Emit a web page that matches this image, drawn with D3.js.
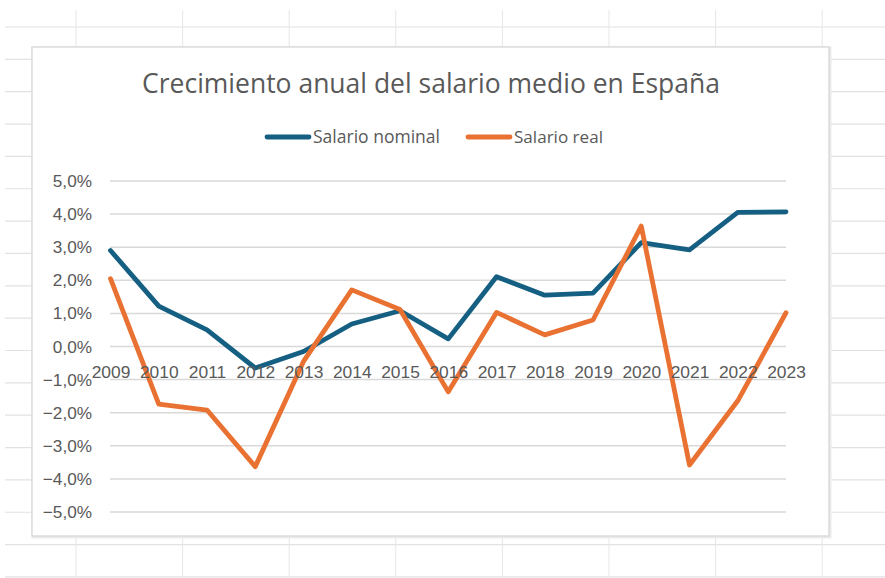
<!DOCTYPE html>
<html><head><meta charset="utf-8">
<script src="https://cdn.jsdelivr.net/npm/d3@7"></script>
<style>html,body{margin:0;padding:0;background:#fff;overflow:hidden}</style>
</head><body>
<svg id="c" width="885" height="578"></svg>
<script>
const years = ["2009","2010","2011","2012","2013","2014","2015","2016","2017","2018","2019","2020","2021","2022","2023"];
const nominal = [2.9, 1.22, 0.5, -0.65, -0.15, 0.68, 1.08, 0.23, 2.11, 1.55, 1.61, 3.14, 2.92, 4.05, 4.07];
const real = [2.05, -1.74, -1.92, -3.63, -0.45, 1.71, 1.12, -1.37, 1.03, 0.35, 0.8, 3.64, -3.58, -1.64, 1.02];
const yTicks = [5, 4, 3, 2, 1, 0, -1, -2, -3, -4, -5];
const seriesNames = ["Salario nominal", "Salario real"];
const colors = ["#156082", "#E97132"];
const title = "Crecimiento anual del salario medio en España";

const svg = d3.select("#c");
const W = 885, H = 578;

// spreadsheet grid background
const rowLines = d3.range(0, 18).map(i => 27 + i * 32.35);
const colLines = d3.range(0, 8).map(i => 76 + i * 106.6);
svg.append("g").selectAll("line").data(rowLines).join("line")
  .attr("x1", 5).attr("x2", W).attr("y1", d => d).attr("y2", d => d)
  .attr("stroke", "#e2e2e2").attr("stroke-width", 1.2);
svg.append("g").selectAll("line").data(colLines).join("line")
  .attr("x1", d => d).attr("x2", d => d).attr("y1", 10).attr("y2", H)
  .attr("stroke", "#e6e6e6").attr("stroke-width", 1);

// chart area box
svg.append("rect").attr("x", 33).attr("y", 48).attr("width", 797).attr("height", 489)
  .attr("fill", "none").attr("stroke", "#ececec").attr("stroke-width", 3);
svg.append("rect").attr("x", 32).attr("y", 47).attr("width", 797).attr("height", 489)
  .attr("fill", "#fff").attr("stroke", "#d4d4d4").attr("stroke-width", 1.2);

const x = d3.scalePoint().domain(years).range([110.5, 786]);
const y = d3.scaleLinear().domain([-5, 5]).range([512, 181]);

function fit(sel, target) {
  const fs = parseFloat(sel.attr("font-size"));
  const w = sel.node().getComputedTextLength();
  sel.attr("font-size", (fs * target / w).toFixed(2));
}

// gridlines
svg.append("g").selectAll("line").data(yTicks).join("line")
  .attr("x1", 110).attr("x2", 786)
  .attr("y1", d => y(d)).attr("y2", d => y(d))
  .attr("stroke", "#d9d9d9").attr("stroke-width", 1.5);

// y axis labels via d3 axis
const yAxis = d3.axisLeft(y).tickValues(yTicks).tickSize(0).tickPadding(0)
  .tickFormat(d => d3.format(".1f")(d).replace(".", ",") + "%");
const ya = svg.append("g").attr("transform", "translate(92,0)").call(yAxis);
ya.select(".domain").remove();
ya.selectAll("text").attr("font-family", "'Liberation Sans', Arial, sans-serif")
  .attr("font-size", 17.2).attr("fill", "#595959");

// lines
const line = d3.line().x((d, i) => x(years[i])).y(d => y(d));
[nominal, real].forEach((s, k) => {
  svg.append("path").datum(s).attr("d", line)
    .attr("fill", "none").attr("stroke", colors[k]).attr("stroke-width", 4.8)
    .attr("stroke-linejoin", "round").attr("stroke-linecap", "round");
});

// x axis labels (drawn on top, next to the zero line)
const xAxis = d3.axisBottom(x).tickSize(0).tickPadding(0);
const xa = svg.append("g").attr("transform", "translate(0,366)").call(xAxis);
xa.select(".domain").remove();
xa.selectAll("text").attr("font-family", "'Liberation Sans', Arial, sans-serif")
  .attr("font-size", 17.4).attr("fill", "#595959").attr("dy", "0.71em");

// title
const t = svg.append("text").attr("x", 431).attr("y", 93).attr("text-anchor", "middle")
  .attr("font-family", "'Open Sans', sans-serif").attr("font-size", 24).attr("fill", "#595959")
  .text(title);
fit(t, 578);

// legend
const legX = [265, 466];
seriesNames.forEach((n, k) => {
  svg.append("line").attr("x1", legX[k] + 2).attr("x2", legX[k] + 44).attr("y1", 137).attr("y2", 137)
    .attr("stroke", colors[k]).attr("stroke-width", 4.8).attr("stroke-linecap", "round");
  const lt = svg.append("text").attr("x", legX[k] + 48).attr("y", 142.5)
    .attr("font-family", "'Open Sans', sans-serif").attr("font-size", 15).attr("fill", "#595959").text(n);
  fit(lt, k === 0 ? 127 : 89);
});
</script>
</body></html>
